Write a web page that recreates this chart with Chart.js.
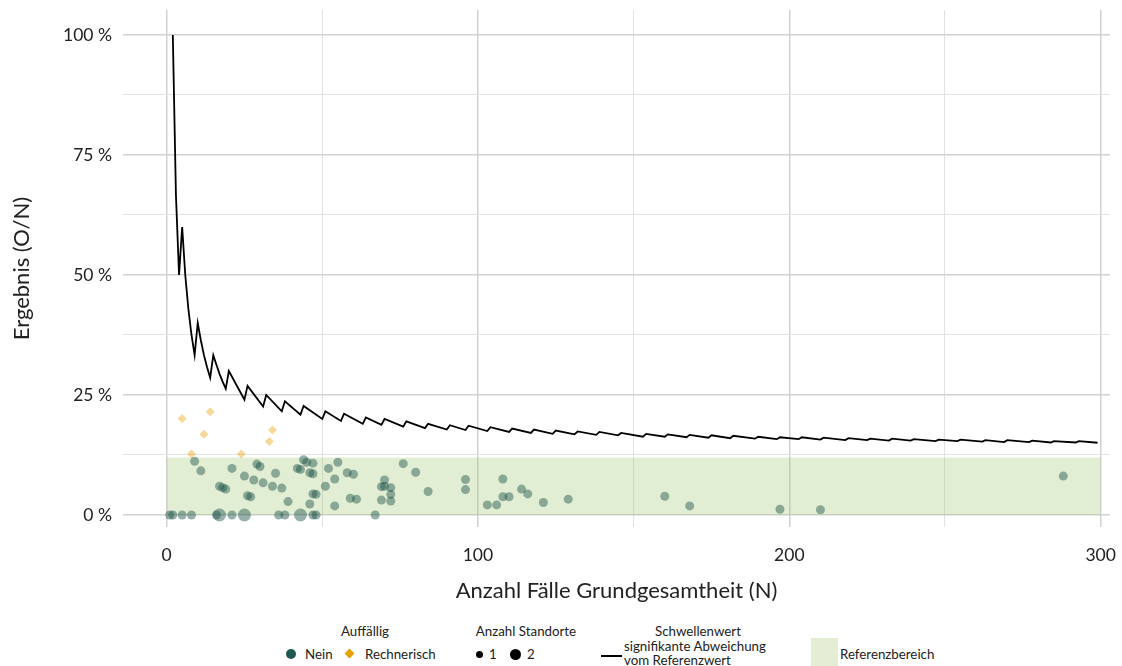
<!DOCTYPE html>
<html>
<head>
<meta charset="utf-8">
<script src="https://cdn.jsdelivr.net/npm/chart.js@4"></script>
<style>
    body { margin: 0; background: #fff; font-family: Lato, 'Open Sans', sans-serif; }
    #wrap { position: relative; width: 1122px; height: 666px; overflow: hidden; }
    #chart-box { position: absolute; left: 0; top: 0; width: 1122px; height: 615px; }
    .lg { position: absolute; font-size: 13.3px; color: #222; white-space: nowrap; line-height: 15px; }
    .ttl { transform: translateX(-50%); }
    .dot { position: absolute; border-radius: 50%; background: #1d5a52; }
</style>
</head>
<body>
<div id="wrap">
    <div id="chart-box"><canvas id="qiChart"></canvas></div>

    <!-- legend -->
    <div class="lg ttl" style="left:365px; top:624px;">Auffällig</div>
    <div class="dot" style="left:286px; top:649px; width:10px; height:10px;"></div>
    <div class="lg" style="left:305px; top:647px;">Nein</div>
    <div style="position:absolute; left:346px; top:650px; width:7px; height:7px; background:#E69F00; transform:rotate(45deg);"></div>
    <div class="lg" style="left:365px; top:647px;">Rechnerisch</div>

    <div class="lg ttl" style="left:526px; top:624px;">Anzahl Standorte</div>
    <div class="dot" style="left:476px; top:651px; width:7px; height:7px; background:#000;"></div>
    <div class="lg" style="left:489px; top:647px;">1</div>
    <div class="dot" style="left:510px; top:649px; width:11px; height:11px; background:#000;"></div>
    <div class="lg" style="left:527px; top:647px;">2</div>

    <div class="lg ttl" style="left:698px; top:624px;">Schwellenwert</div>
    <div style="position:absolute; left:601px; top:655px; width:21px; height:2px; background:#000;"></div>
    <div class="lg" style="left:624px; top:639px;">signifikante Abweichung</div>
    <div class="lg" style="left:624px; top:653px;">vom Referenzwert</div>

    <div style="position:absolute; left:811px; top:638px; width:27px; height:28px; background:#e2edd4;"></div>
    <div class="lg" style="left:840px; top:647px;">Referenzbereich</div>
</div>

<script>
// --- Data ---
const neinN = [1, 2, 5, 8, 16, 17, 21, 25, 36, 38, 43, 47, 48, 67,
    9, 11, 17, 18, 19, 21, 25, 26, 27, 28, 29, 30, 31, 34, 35, 37, 39, 42, 43, 44, 45, 47,
    46, 47, 46, 47, 48, 51, 52, 54, 54, 55, 58, 59, 60, 61, 69, 70, 70, 72, 72, 69, 72,
    76, 80, 84, 96, 96, 103, 106, 108, 108, 110, 114, 116, 121, 129, 160, 168, 197, 210, 288];
const neinPct = [0, 0, 0, 0, 0, 0, 0, 0, 0, 0, 0, 0, 0, 0,
    11.2, 9.2, 6.0, 5.7, 5.4, 9.7, 8.1, 4.0, 3.8, 7.3, 10.6, 10.1, 6.7, 6.0, 8.7, 5.6, 2.8, 9.7, 9.5, 11.5, 11.0, 10.8,
    8.8, 8.6, 2.3, 4.4, 4.3, 6.0, 9.7, 7.5, 1.9, 11.0, 8.8, 3.5, 8.5, 3.3, 5.9, 6.0, 7.3, 5.7, 4.3, 3.1, 2.9,
    10.7, 8.9, 4.9, 7.4, 5.3, 2.1, 2.1, 7.5, 3.8, 3.8, 5.4, 4.4, 2.6, 3.3, 3.9, 1.9, 1.2, 1.1, 8.1];
const neinSites = [1, 1, 1, 1, 1, 2, 1, 2, 1, 1, 2, 1, 1, 1,
    1, 1, 1, 1, 1, 1, 1, 1, 1, 1, 1, 1, 1, 1, 1, 1, 1, 1, 1, 1, 1, 1,
    1, 1, 1, 1, 1, 1, 1, 1, 1, 1, 1, 1, 1, 1, 1, 1, 1, 1, 1, 1, 1,
    1, 1, 1, 1, 1, 1, 1, 1, 1, 1, 1, 1, 1, 1, 1, 1, 1, 1, 1];

const rechnN = [5, 14, 12, 8, 24, 34, 33];
const rechnPct = [20.1, 21.5, 16.8, 12.7, 12.7, 17.7, 15.3];

// threshold line (significant deviation), vertices of the sawtooth
const threshN = [2, 3, 4, 5, 6, 7, 8, 9, 10, 11, 12, 13, 14, 15, 16, 17, 18, 19, 20, 25, 26, 31, 32, 37, 38, 43,
    44, 50, 51, 56, 57, 63, 64, 69, 70, 76, 77, 83, 84, 90, 91, 96, 97, 103, 104, 110, 111, 117, 118, 124,
    125, 131, 132, 138, 139, 145, 146, 153, 154, 160, 161, 167, 168, 174, 175, 181, 182, 189, 190, 196,
    197, 203, 204, 210, 211, 218, 219, 225, 226, 232, 233, 239, 240, 247, 248, 254, 255, 262, 263, 269,
    270, 277, 278, 284, 285, 292, 293, 299];
const threshPct = [100, 66.7, 50, 60, 50, 42.9, 37.5, 33.3, 40, 36.4, 33.3, 30.8, 28.6, 33.3, 31.3, 29.4, 27.8, 26.3, 30, 24, 26.9, 22.6, 25, 21.6, 23.7, 20.9,
    22.7, 20, 21.6, 19.6, 21.1, 19.0, 20.3, 18.8, 20, 18.4, 19.5, 18.1, 19.0, 17.8, 18.7, 17.7, 18.6, 17.5, 18.3, 17.3, 18.0, 17.1, 17.8, 16.9,
    17.6, 16.8, 17.4, 16.7, 17.3, 16.6, 17.1, 16.3, 16.9, 16.3, 16.8, 16.2, 16.7, 16.1, 16.6, 16.0, 16.5, 15.9, 16.3, 15.8,
    16.2, 15.8, 16.2, 15.7, 16.1, 15.6, 16.0, 15.6, 15.9, 15.5, 15.9, 15.5, 15.8, 15.4, 15.7, 15.4, 15.7, 15.3, 15.6, 15.2,
    15.6, 15.2, 15.5, 15.1, 15.4, 15.1, 15.4, 15.05];

const refRange = [0, 12];      // Referenzbereich (%)
const xTicks = [0, 50, 100, 150, 200, 250, 300];
const yTicks = [0, 12.5, 25, 37.5, 50, 62.5, 75, 87.5, 100];

// --- Build datasets ---
const toXY = (xs, ys) => xs.map((x, i) => ({ x: x, y: ys[i] }));

const majorX = v => v % 100 === 0;
const majorY = v => v % 25 === 0;

// scales should not add their own label overflow padding
const noPad = s => { s.paddingTop = 0; s.paddingBottom = 0; s.paddingLeft = 0; s.paddingRight = 0; };

new Chart(document.getElementById('qiChart'), {
    type: 'scatter',
    data: {
        datasets: [
            {
                label: 'Schwellenwert',
                type: 'line',
                data: toXY(threshN, threshPct),
                borderColor: '#000',
                borderWidth: 1.8,
                pointRadius: 0,
                tension: 0,
                fill: false,
                order: 1
            },
            {
                label: 'Rechnerisch',
                data: toXY(rechnN, rechnPct),
                pointStyle: 'rectRot',
                pointRadius: 4.5,
                backgroundColor: 'rgba(232, 160, 0, 0.4)',
                borderWidth: 0,
                order: 2
            },
            {
                label: 'Nein',
                data: toXY(neinN, neinPct),
                pointRadius: neinSites.map(s => s === 2 ? 6.5 : 4.5),
                backgroundColor: 'rgba(27, 79, 71, 0.45)',
                borderWidth: 0,
                order: 3
            },
            {
                label: 'Referenzbereich',
                type: 'line',
                data: [{ x: 0, y: refRange[1] }, { x: 300, y: refRange[1] }],
                borderWidth: 0,
                pointRadius: 0,
                backgroundColor: 'rgba(160, 200, 110, 0.3)',
                fill: { value: refRange[0] },
                order: 4
            }
        ]
    },
    options: {
        responsive: true,
        maintainAspectRatio: false,
        animation: false,
        layout: { padding: { top: 10, right: 12, bottom: 0, left: 0 } },
        plugins: {
            legend: { display: false },
            tooltip: { enabled: false }
        },
        scales: {
            x: {
                type: 'linear',
                min: -14,
                max: 303,
                afterBuildTicks: s => { s.ticks = xTicks.map(v => ({ value: v })); },
                afterFit: s => { s.height = 615 - 527; noPad(s); },
                border: { display: false },
                grid: {
                    drawTicks: false,
                    color: ctx => majorX(ctx.tick.value) ? '#d2d2d2' : '#e2e2e2',
                    lineWidth: ctx => majorX(ctx.tick.value) ? 1.5 : 1
                },
                ticks: {
                    padding: 17.5,
                    color: '#222',
                    font: { family: 'Lato', size: 17.5 },
                    callback: v => majorX(v) ? v : ''
                },
                title: {
                    display: true,
                    text: 'Anzahl Fälle Grundgesamtheit (N)',
                    color: '#222',
                    font: { family: 'Lato', size: 22 },
                    padding: { top: 0, bottom: 10.8 }
                }
            },
            y: {
                min: -2.5,
                max: 105.2,
                afterBuildTicks: s => { s.ticks = yTicks.map(v => ({ value: v })); },
                afterFit: s => { s.width = 123; noPad(s); },
                border: { display: false },
                grid: {
                    drawTicks: false,
                    color: ctx => majorY(ctx.tick.value) ? '#d2d2d2' : '#e2e2e2',
                    lineWidth: ctx => majorY(ctx.tick.value) ? 1.5 : 1
                },
                ticks: {
                    padding: 11,
                    color: '#222',
                    font: { family: 'Lato', size: 17.5 },
                    callback: v => majorY(v) ? v + ' %' : ''
                },
                title: {
                    display: true,
                    text: 'Ergebnis (O/N)',
                    color: '#222',
                    font: { family: 'Lato', size: 22 },
                    padding: { top: 8.8, bottom: 0 }
                }
            }
        }
    }
});
</script>
</body>
</html>
